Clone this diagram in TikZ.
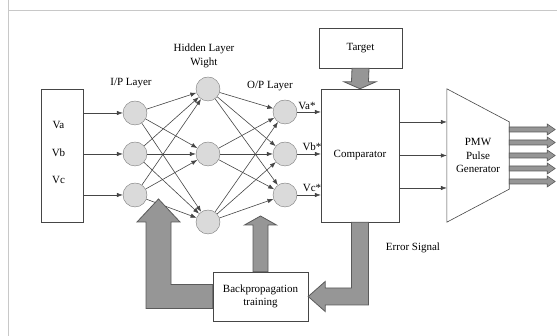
\documentclass[tikz,border=0pt]{standalone}
\usepackage{fontspec}
\setmainfont{Liberation Serif}
\usetikzlibrary{arrows.meta,calc,positioning}
\definecolor{nnline}{RGB}{70,70,70}
\definecolor{nnfill}{RGB}{218,218,218}
\definecolor{nnedge}{RGB}{120,120,120}
\definecolor{blkfill}{RGB}{150,150,150}
\definecolor{blkedge}{RGB}{90,90,90}
\definecolor{framegray}{RGB}{200,200,200}

\begin{document}
\begin{tikzpicture}[x=1pt, y=1pt,
    font=\fontsize{11}{13.5}\selectfont,
    neuron/.style={circle, draw=nnedge, fill=nnfill, minimum size=24pt, inner sep=0pt},
    blockbox/.style={draw=nnline, fill=white, inner sep=0pt, align=center},
    arr/.style={-{Latex[length=6pt,width=4.5pt]}, draw=nnline, line width=0.6pt},
    blk/.style={fill=blkfill, draw=blkedge, line width=0.8pt, line join=miter},
]
\useasboundingbox (0,0) rectangle (557,336);
\draw[framegray, line width=0.8pt] (557,326) -- (8,326) -- (8,336);
\draw[framegray, line width=0.8pt] (8,326) -- (8,0);

\node[blockbox, minimum width=42pt, minimum height=133pt] (inp) at (62,180.5) {};
\node (va) at (58.5,211) {Va};
\node (vb) at (58.5,183) {Vb};
\node (vc) at (58.5,156) {Vc};

\node[neuron] (i1) at (135,223) {};
\node[neuron] (i2) at (135,182) {};
\node[neuron] (i3) at (135,141) {};
\node[neuron] (h1) at (208,247) {};
\node[neuron] (h2) at (208,182) {};
\node[neuron] (h3) at (208,114) {};
\node[neuron] (o1) at (285,224) {};
\node[neuron] (o2) at (285,182) {};
\node[neuron] (o3) at (285,141) {};

\node (iplabel) at (131,253) {I/P Layer};
\node[align=center] (hlabel) at (204,280) {Hidden Layer\\Wight};
\node (oplabel) at (270,250) {O/P Layer};

\node[blockbox, minimum width=78pt, minimum height=133pt] (comp) at (360,180.5) {Comparator};
\node[blockbox, minimum width=83pt, minimum height=40pt] (tgt) at (360.5,288) {Target};
\node[blockbox, minimum width=95pt, minimum height=49pt] (bp) at (260.5,39.5) {Backpropagation\\training};
\node[minimum width=62pt, minimum height=133pt, inner sep=0pt, align=center] (pmw) at (478,180.5) {PMW\\Pulse\\Generator};
\draw[nnline, line width=0.6pt] (pmw.north west) -- ($(pmw.north east)+(0,-33)$)
    -- ($(pmw.south east)+(0,33)$) -- (pmw.south west) -- cycle;

\foreach \n in {1,2,3}
    \draw[arr] (inp.east |- i\n) -- (i\n);
\foreach \a in {1,2,3}
    \foreach \b in {1,2,3} {
        \draw[arr] (i\a) -- (h\b);
        \draw[arr] (h\a) -- (o\b);
    }
\foreach \n in {1,2,3}
    \draw[arr] (o\n) -- (comp.west |- o\n);
\node (vas) at (307,230) {Va*};
\node (vbs) at (312,189) {Vb*};
\node (vcs) at (312,148) {Vc*};

\foreach \dy in {33.5,0,-32.5}
    \draw[arr] ($(comp.east)+(0,\dy)$) -- ($(pmw.west)+(0,\dy)$);

\filldraw[blk] ($(tgt.south)+(-8.5,0)$) -- ($(comp.north)+(-8.5,7)$) -- ($(comp.north)+(-16,7)$)
    -- (comp.north) -- ($(comp.north)+(16,7)$) -- ($(comp.north)+(8.5,7)$)
    -- ($(tgt.south)+(8.5,0)$) -- cycle;

\foreach \k in {0,...,4} {
    \coordinate (out\k) at ($(pmw.east)+(46,26-13*\k)$);
    \filldraw[blk, line width=0.6pt] ($(out\k)+(-46,2.5)$) -- ($(out\k)+(-8,2.5)$) -- ($(out\k)+(-8,5.5)$)
        -- (out\k) -- ($(out\k)+(-8,-5.5)$) -- ($(out\k)+(-8,-2.5)$) -- ($(out\k)+(-46,-2.5)$) -- cycle;
}

\coordinate (fbL) at (158.5,137);
\coordinate (fbC) at (fbL |- bp.west);
\coordinate (fbM) at (260.5,120);
\coordinate (errC) at (comp.south |- bp.east);

\filldraw[blk] ($(bp.west)+(0,12)$) -- ($(fbC)+(12.5,12)$) -- ($(fbL)+(12.5,-23)$) -- ($(fbL)+(21.5,-23)$)
    -- (fbL) -- ($(fbL)+(-21.5,-23)$) -- ($(fbL)+(-12.5,-23)$) -- ($(fbC)+(-12.5,-12)$)
    -- ($(bp.west)+(0,-12)$) -- cycle;
\filldraw[blk] ($(bp.north)+(-7.5,0)$) -- ($(fbM)+(-7.5,-9)$) -- ($(fbM)+(-16,-9)$) -- (fbM)
    -- ($(fbM)+(16,-9)$) -- ($(fbM)+(7.5,-9)$) -- ($(bp.north)+(7.5,0)$) -- cycle;
\filldraw[blk] ($(comp.south)+(-8.5,0)$) -- ($(errC)+(-8.5,8.5)$) -- ($(bp.east)+(17,8.5)$)
    -- ($(bp.east)+(17,15)$) -- (bp.east) -- ($(bp.east)+(17,-15)$) -- ($(bp.east)+(17,-8.5)$)
    -- ($(errC)+(8.5,-8.5)$) -- ($(comp.south)+(8.5,0)$) -- cycle;
\node (err) at (413,88) {Error Signal};
\end{tikzpicture}
\end{document}
